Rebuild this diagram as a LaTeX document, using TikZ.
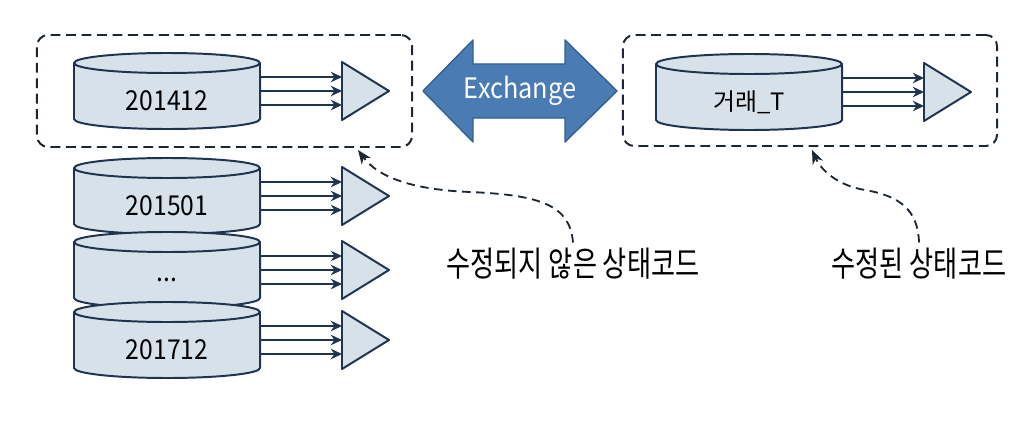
\documentclass[tikz,border=0pt]{standalone}
\usepackage{fontspec}
\setmainfont{Noto Sans CJK KR}
\newfontfamily\krlabel[FakeStretch=0.76]{Noto Sans CJK KR}
\newfontfamily\narrow[FakeStretch=0.9]{Noto Sans CJK KR}
\usetikzlibrary{arrows.meta}
\definecolor{navy}{HTML}{1F344E}
\definecolor{cylfill}{HTML}{D6E1EA}
\definecolor{xfill}{HTML}{4A7BB3}
\definecolor{xline}{HTML}{35608F}
\definecolor{dashc}{HTML}{1C2733}
\newcommand\dotsrow{...}
\tikzset{
  cyl/.style={fill=cylfill,draw=navy,line width=1.4pt,line join=round},
  cyltext/.style={font=\narrow\fontsize{19.5}{22}\selectfont,inner sep=0pt,minimum width=4.65cm},
  feed/.style={draw=navy,line width=1.2pt,-{Stealth[length=8pt,width=7.5pt]}},
  frame/.style={draw=dashc,line width=1.4pt,dash pattern=on 7pt off 4pt,rounded corners=8pt,inner sep=0pt},
  note/.style={draw=dashc,line width=1.3pt,dash pattern=on 6pt off 4pt,-{Stealth[length=10pt,width=8pt]}},
  lbl/.style={font=\krlabel\fontsize{24.5}{28}\selectfont,inner sep=4pt},
}
\begin{document}
\begin{tikzpicture}[x=0.025cm,y=-0.025cm]
\useasboundingbox (0,0) rectangle (1024,427);
% dashed groups
\node[frame,minimum width=9.375cm,minimum height=2.8cm] (oldbox) at (224.5,91) {};
\node[frame,minimum width=9.35cm,minimum height=2.775cm] (newbox) at (810,90.5) {};
% tables with their outputs
\foreach \n/\cx/\cy/\txt in {a/167/91/201412,b/167/196/201501,c/167/270/\dotsrow,
    d/167/340/201712,e/749/92/{\rmfamily\fontsize{17}{20}\selectfont 거래\_T}} {
  \path[cyl] (\cx-93,\cy-28) -- (\cx-93,\cy+28)
    arc[start angle=180,end angle=360,x radius=2.325cm,y radius=0.25cm]
    -- (\cx+93,\cy-28) -- cycle;
  \draw[cyl] (\cx,\cy-28) ellipse[x radius=2.325cm,y radius=0.25cm];
  \node[cyltext] (\n) at (\cx,\cy+10) {\txt};
  \draw[cyl] (\cx+175,\cy-29) -- (\cx+222,\cy) -- (\cx+175,\cy+29) -- cycle;
  \coordinate (\n out) at (\cx+93,\cy);
  \coordinate (\n in) at (\cx+175,\cy);
  \foreach \s in {0.35,0,-0.35}
    \draw[feed] ([yshift=\s cm]\n out) -- ([yshift=\s cm]\n in);
}
% exchange
\draw[fill=xfill,draw=xline,line width=1pt,line join=round] (423,91) -- (473,40) -- (473,64)
  -- (565,64) -- (565,40) -- (617,91) -- (565,142) -- (565,118) -- (473,118) -- (473,142) -- cycle;
\node[text=white,font=\narrow\fontsize{20}{22}\selectfont] (xchg) at (520,91) {Exchange};
% remarks
\node[lbl] (oldlbl) at (573,264) {수정되지 않은 상태코드};
\node[lbl] (newlbl) at (919,264) {수정된 상태코드};
\coordinate (oldtip) at (358,150);
\coordinate (newtip) at (812,150);
\draw[note] (oldlbl.north) .. controls (570,205) and (540,195) .. (470,192)
  .. controls (420,190) and (380,180) .. (oldtip);
\draw[note] (newlbl.north) .. controls (918,210) and (900,196) .. (865,190)
  .. controls (840,186) and (822,172) .. (newtip);
\end{tikzpicture}
\end{document}
